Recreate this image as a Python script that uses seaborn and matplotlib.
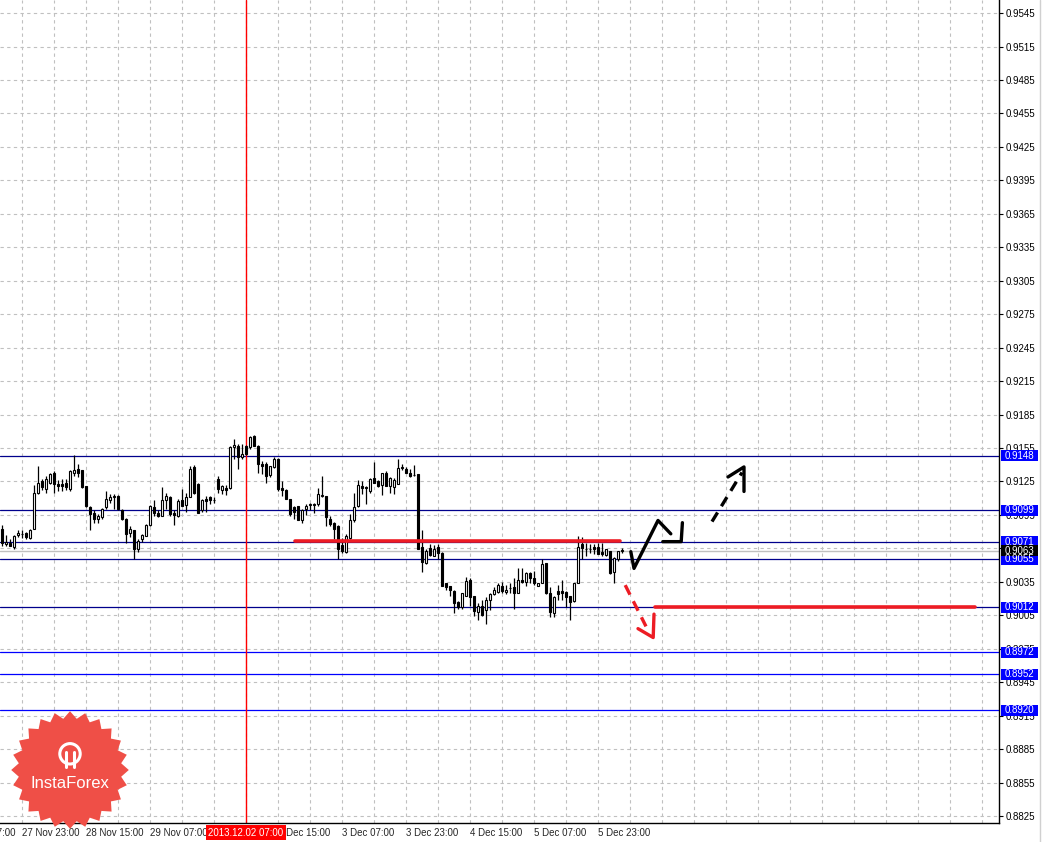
import numpy as np
import pandas as pd
import seaborn as sns
import matplotlib.pyplot as plt
from matplotlib.patches import Rectangle
from matplotlib.transforms import blended_transform_factory

# H1 candles, bar index 0 = 27 Nov 23:00
opens = [0.9082, 0.9069, 0.9070, 0.9066, 0.9077, 0.9078, 0.9079, 0.9074, 0.9082, 0.9115,
         0.9125, 0.9118, 0.9124, 0.9133, 0.9123, 0.9123, 0.9124, 0.9118, 0.9133, 0.9136,
         0.9135, 0.9121, 0.9102, 0.9097, 0.9091, 0.9093, 0.9102, 0.9108, 0.9111, 0.9112,
         0.9099, 0.9091, 0.9079, 0.9081, 0.9064, 0.9073, 0.9076, 0.9086, 0.9102, 0.9097,
         0.9094, 0.9108, 0.9111, 0.9097, 0.9094, 0.9108, 0.9104, 0.9111, 0.9138, 0.9123,
         0.9099, 0.9109, 0.9111, 0.9108, 0.9127, 0.9117, 0.9119, 0.9119, 0.9156, 0.9157,
         0.9147, 0.9157, 0.9156, 0.9166, 0.9157, 0.9141, 0.9141, 0.9131, 0.9138, 0.9145,
         0.9119, 0.9117, 0.9109, 0.9102, 0.9103, 0.9090, 0.9100, 0.9104, 0.9105, 0.9105,
         0.9112, 0.9112, 0.9091, 0.9088, 0.9085, 0.9068, 0.9062, 0.9074, 0.9090, 0.9103,
         0.9121, 0.9120, 0.9116, 0.9128, 0.9125, 0.9122, 0.9133, 0.9121, 0.9120, 0.9123,
         0.9137, 0.9136, 0.9133, 0.9131, 0.9132, 0.9066, 0.9052, 0.9065, 0.9058, 0.9066,
         0.9061, 0.9034, 0.9031, 0.9027, 0.9017, 0.9012, 0.9022, 0.9037, 0.9022, 0.9008,
         0.9013, 0.9010, 0.9019, 0.9024, 0.9026, 0.9031, 0.9026, 0.9029, 0.9030, 0.9025,
         0.9037, 0.9035, 0.9043, 0.9038, 0.9031, 0.9034, 0.9052, 0.9025, 0.9007, 0.9027,
         0.9027, 0.9026, 0.9022, 0.9018, 0.9034, 0.9069, 0.9064, 0.9064, 0.9066, 0.9066,
         0.9062, 0.9059, 0.9063, 0.9044, 0.9055, 0.9063]
highs = [0.9086, 0.9077, 0.9073, 0.9077, 0.9081, 0.9081, 0.9080, 0.9082, 0.9122, 0.9139,
         0.9127, 0.9130, 0.9133, 0.9134, 0.9126, 0.9127, 0.9127, 0.9135, 0.9149, 0.9141,
         0.9135, 0.9121, 0.9103, 0.9099, 0.9096, 0.9101, 0.9116, 0.9114, 0.9114, 0.9113,
         0.9100, 0.9092, 0.9085, 0.9081, 0.9073, 0.9078, 0.9087, 0.9104, 0.9108, 0.9099,
         0.9120, 0.9115, 0.9112, 0.9099, 0.9109, 0.9118, 0.9115, 0.9139, 0.9140, 0.9124,
         0.9109, 0.9112, 0.9112, 0.9111, 0.9130, 0.9122, 0.9122, 0.9157, 0.9163, 0.9159,
         0.9159, 0.9158, 0.9166, 0.9167, 0.9158, 0.9143, 0.9142, 0.9139, 0.9147, 0.9146,
         0.9125, 0.9118, 0.9109, 0.9103, 0.9103, 0.9100, 0.9105, 0.9106, 0.9106, 0.9119,
         0.9130, 0.9112, 0.9094, 0.9089, 0.9086, 0.9074, 0.9078, 0.9096, 0.9115, 0.9126,
         0.9125, 0.9121, 0.9128, 0.9142, 0.9126, 0.9133, 0.9134, 0.9129, 0.9128, 0.9145,
         0.9141, 0.9138, 0.9136, 0.9140, 0.9132, 0.9081, 0.9064, 0.9069, 0.9068, 0.9069,
         0.9062, 0.9034, 0.9031, 0.9028, 0.9018, 0.9025, 0.9039, 0.9038, 0.9022, 0.9016,
         0.9019, 0.9021, 0.9025, 0.9030, 0.9034, 0.9035, 0.9032, 0.9034, 0.9038, 0.9047,
         0.9047, 0.9044, 0.9044, 0.9045, 0.9034, 0.9055, 0.9052, 0.9030, 0.9022, 0.9032,
         0.9037, 0.9027, 0.9022, 0.9034, 0.9076, 0.9075, 0.9070, 0.9069, 0.9069, 0.9070,
         0.9070, 0.9064, 0.9063, 0.9057, 0.9063, 0.9065]
lows = [0.9067, 0.9067, 0.9067, 0.9064, 0.9075, 0.9074, 0.9073, 0.9073, 0.9082, 0.9114,
        0.9117, 0.9115, 0.9123, 0.9115, 0.9116, 0.9116, 0.9117, 0.9116, 0.9130, 0.9129,
        0.9119, 0.9102, 0.9081, 0.9088, 0.9088, 0.9091, 0.9100, 0.9106, 0.9100, 0.9099,
        0.9090, 0.9070, 0.9075, 0.9055, 0.9062, 0.9071, 0.9076, 0.9085, 0.9094, 0.9093,
        0.9094, 0.9100, 0.9094, 0.9086, 0.9093, 0.9103, 0.9098, 0.9111, 0.9114, 0.9097,
        0.9098, 0.9098, 0.9105, 0.9106, 0.9115, 0.9114, 0.9113, 0.9118, 0.9145, 0.9136,
        0.9145, 0.9149, 0.9154, 0.9157, 0.9133, 0.9132, 0.9124, 0.9129, 0.9137, 0.9116,
        0.9112, 0.9109, 0.9094, 0.9091, 0.9090, 0.9088, 0.9095, 0.9099, 0.9097, 0.9103,
        0.9111, 0.9085, 0.9085, 0.9073, 0.9055, 0.9061, 0.9061, 0.9073, 0.9089, 0.9102,
        0.9114, 0.9105, 0.9115, 0.9124, 0.9120, 0.9113, 0.9121, 0.9115, 0.9114, 0.9123,
        0.9135, 0.9133, 0.9129, 0.9130, 0.9064, 0.9044, 0.9051, 0.9058, 0.9058, 0.9055,
        0.9031, 0.9028, 0.9022, 0.9007, 0.9011, 0.9011, 0.9022, 0.9013, 0.9004, 0.9001,
        0.9004, 0.8997, 0.9010, 0.9023, 0.9025, 0.9025, 0.9024, 0.9025, 0.9011, 0.9025,
        0.9034, 0.9031, 0.9034, 0.9032, 0.9031, 0.9034, 0.9024, 0.9003, 0.9003, 0.9019,
        0.9019, 0.9012, 0.9001, 0.9017, 0.9034, 0.9055, 0.9058, 0.9061, 0.9060, 0.9060,
        0.9058, 0.9058, 0.9042, 0.9034, 0.9054, 0.9061]
closes = [0.9070, 0.9071, 0.9067, 0.9076, 0.9079, 0.9078, 0.9075, 0.9081, 0.9115, 0.9124,
          0.9120, 0.9127, 0.9132, 0.9123, 0.9121, 0.9121, 0.9120, 0.9134, 0.9135, 0.9133,
          0.9120, 0.9103, 0.9096, 0.9091, 0.9094, 0.9100, 0.9109, 0.9111, 0.9112, 0.9100,
          0.9091, 0.9078, 0.9082, 0.9064, 0.9072, 0.9077, 0.9086, 0.9103, 0.9097, 0.9094,
          0.9108, 0.9112, 0.9096, 0.9095, 0.9107, 0.9103, 0.9111, 0.9136, 0.9115, 0.9097,
          0.9108, 0.9107, 0.9108, 0.9108, 0.9118, 0.9121, 0.9117, 0.9156, 0.9158, 0.9147,
          0.9150, 0.9150, 0.9165, 0.9157, 0.9141, 0.9139, 0.9130, 0.9139, 0.9145, 0.9118,
          0.9117, 0.9109, 0.9096, 0.9098, 0.9090, 0.9099, 0.9103, 0.9105, 0.9104, 0.9114,
          0.9113, 0.9093, 0.9087, 0.9082, 0.9064, 0.9063, 0.9076, 0.9090, 0.9102, 0.9122,
          0.9119, 0.9119, 0.9127, 0.9124, 0.9121, 0.9133, 0.9121, 0.9128, 0.9126, 0.9137,
          0.9138, 0.9133, 0.9130, 0.9131, 0.9064, 0.9053, 0.9063, 0.9059, 0.9064, 0.9061,
          0.9031, 0.9030, 0.9028, 0.9016, 0.9012, 0.9025, 0.9036, 0.9021, 0.9009, 0.9013,
          0.9005, 0.9019, 0.9024, 0.9028, 0.9032, 0.9027, 0.9028, 0.9029, 0.9025, 0.9037,
          0.9035, 0.9043, 0.9038, 0.9034, 0.9034, 0.9051, 0.9025, 0.9008, 0.9021, 0.9024,
          0.9025, 0.9021, 0.9017, 0.9034, 0.9066, 0.9065, 0.9064, 0.9064, 0.9064, 0.9060,
          0.9060, 0.9064, 0.9043, 0.9056, 0.9063, 0.9063]
first_bar = -5

time_ticks = [-16, 0, 16, 32, 48, 64, 80, 96, 112, 128, 144]
time_labels = ["27 Nov 07:00", "27 Nov 23:00", "28 Nov 15:00", "29 Nov 07:00", "29 Nov 23:00",
               "2 Dec 15:00", "3 Dec 07:00", "3 Dec 23:00", "4 Dec 15:00", "5 Dec 07:00", "5 Dec 23:00"]
cursor_bar = 56
cursor_label = "2013.12.02 07:00"

price_ticks = np.round(np.arange(0.8825, 0.9546, 0.003), 4)
upper_levels = [0.9148, 0.9099, 0.9071, 0.9055, 0.9012]
lower_levels = [0.8972, 0.8952, 0.8920]
last_price = 0.9063

# hand drawn forecast
up_path_bar = [152.2, 153.0, 159.0, 162.2]
up_path_px = [0.9062, 0.9047, 0.9090, 0.9078]
up_hook_bar = [160.2, 164.8, 165.1]
up_hook_px = [0.9071, 0.9071, 0.9088]
up_dash_bar = [172.5, 180.0]
up_dash_px = [0.9089, 0.9133]
up_head_bar = [176.5, 180.5, 180.5]
up_head_px = [0.9129, 0.9138, 0.9116]
dn_dash_bar = [150.8, 156.0]
dn_dash_px = [0.9032, 0.8995]
dn_head_bar = [154.0, 157.8, 158.0]
dn_head_px = [0.8993, 0.8985, 0.9006]
res_bar = [68.3, 149.5]
res_px = [0.9072, 0.9072]
sup_bar = [158.3, 238.3]
sup_px = [0.9012, 0.9012]

sns.set_style("white")
plt.rcParams['font.family'] = ['Liberation Sans', 'DejaVu Sans']

fig = plt.figure(figsize=(10.5, 8.42), dpi=100)
ax = fig.add_axes([0, 19 / 842, 999 / 1050, 823 / 842])
ax.set_xlim(-5.5, 244.25)
ax.set_ylim(0.88187, 0.95567)
px_price = (0.95567 - 0.88187) / 823  # price per pixel

df = pd.DataFrame({"bar": np.arange(first_bar, first_bar + len(opens)),
                   "open": opens, "high": highs, "low": lows, "close": closes})

# grid
for p in price_ticks:
    ax.axhline(p, color="#c0c0c0", lw=0.8, ls=(0, (3, 3)), zorder=0)
for b in range(0, 245, 8):
    ax.axvline(b, color="#c0c0c0", lw=0.8, ls=(0, (3, 3)), zorder=0)

# levels
for p in upper_levels:
    ax.axhline(p, color="#00008c", lw=0.9, zorder=1)
for p in lower_levels:
    ax.axhline(p, color="#0000ff", lw=0.9, zorder=1)
ax.axhline(last_price, color="#c0c0c0", lw=1.0, zorder=1)
ax.axvline(cursor_bar, color="#ff0000", lw=1.0, zorder=1)

# candles
ax.vlines(df["bar"], df["low"], df["high"], color="black", lw=0.9, zorder=3)
body_lo = df[["open", "close"]].min(axis=1)
body_h = (df["close"] - df["open"]).abs().clip(lower=0.00002)
up = df["close"] >= df["open"]
ax.bar(df["bar"][up], body_h[up], bottom=body_lo[up], width=0.7, color="white",
       edgecolor="black", lw=0.8, zorder=4)
ax.bar(df["bar"][~up], body_h[~up], bottom=body_lo[~up], width=0.7, color="black",
       edgecolor="black", lw=0.8, zorder=4)

# drawings
red = "#ed1c24"
sns.lineplot(x=res_bar, y=res_px, color=red, lw=2.6, sort=False, estimator=None, ax=ax, zorder=5)
sns.lineplot(x=sup_bar, y=sup_px, color=red, lw=2.6, sort=False, estimator=None, ax=ax, zorder=5)
sns.lineplot(x=up_path_bar, y=up_path_px, color="black", lw=2.4, sort=False, estimator=None, ax=ax, zorder=5)
sns.lineplot(x=up_hook_bar, y=up_hook_px, color="black", lw=2.4, sort=False, estimator=None, ax=ax, zorder=5)
ax.plot(up_dash_bar, up_dash_px, color="black", lw=2.4, ls=(0, (3.2, 2.2)), zorder=5)
sns.lineplot(x=up_head_bar, y=up_head_px, color="black", lw=2.4, sort=False, estimator=None, ax=ax, zorder=5)
ax.plot(dn_dash_bar, dn_dash_px, color=red, lw=2.4, ls=(0, (3.2, 2.2)), zorder=5)
sns.lineplot(x=dn_head_bar, y=dn_head_px, color=red, lw=2.4, sort=False, estimator=None, ax=ax, zorder=5)

# axes look
for s in ["top", "left"]:
    ax.spines[s].set_visible(False)
for s in ["right", "bottom"]:
    ax.spines[s].set_color("black")
    ax.spines[s].set_linewidth(1.0)
ax.yaxis.tick_right()
ax.set_yticks(price_ticks)
ax.set_yticklabels([f"{p:.4f}" for p in price_ticks])
ax.tick_params(axis="y", direction="out", length=3, width=0.8, pad=2, labelsize=7, colors="black")
ax.set_xticks([t for t in time_ticks if t > -5])
ax.set_xticklabels([])
ax.tick_params(axis="x", direction="out", length=3, width=0.8)
ax.set_xlabel("")
ax.set_ylabel("")

xtr = blended_transform_factory(ax.transData, ax.transAxes)
for t, lab in zip(time_ticks, time_labels):
    ax.text(t, -0.012, lab, transform=xtr, ha="left", va="center", fontsize=7,
            clip_on=False, zorder=6)
ax.text(cursor_bar, -0.012, cursor_label, transform=xtr, ha="center", va="center",
        fontsize=7, color="white", clip_on=False, zorder=7,
        bbox=dict(boxstyle="square,pad=0.25", fc="#ff0000", ec="none"))

# price label boxes on the scale
ytr = blended_transform_factory(ax.transAxes, ax.transData)
box_w = 37 / 999
box_h = 11 * px_price
for p, fc in [(v, "#0000ff") for v in upper_levels + lower_levels] + [(last_price, "black")]:
    ax.add_patch(Rectangle((1.002, p - box_h / 2), box_w, box_h, transform=ytr,
                           fc=fc, ec="none", clip_on=False, zorder=7))
    ax.text(1.002 + box_w / 2, p, f"{p:.4f}", transform=ytr, ha="center", va="center",
            fontsize=7, color="white", clip_on=False, zorder=8)

# right frame line
fig.add_artist(plt.Line2D([1040 / 1050, 1040 / 1050], [0, 1], color="#d0d0d0", lw=1))

# InstaForex badge
lax = fig.add_axes([10 / 1050, (842 - 830) / 842, 120 / 1050, 120 / 842])
lax.set_xlim(-1, 1)
lax.set_ylim(-1, 1)
lax.axis("off")
n = 24
ang = np.linspace(0, 2 * np.pi, 2 * n, endpoint=False) + np.pi / 2
rad = np.where(np.arange(2 * n) % 2 == 0, 0.98, 0.86)
lax.fill(rad * np.cos(ang), rad * np.sin(ang), color="#ef4f47", ec="none")
lax.text(0, -0.22, "InstaForex", ha="center", va="center", color="white", fontsize=12)
lax.add_patch(plt.Circle((0, 0.27), 0.17, fc="none", ec="white", lw=2.2))
lax.plot([-0.07, -0.07], [0.05, 0.3], color="white", lw=2.2)
lax.plot([0.07, 0.07], [0.05, 0.3], color="white", lw=2.2)

fig.savefig("out.png", dpi=100, facecolor="white")
